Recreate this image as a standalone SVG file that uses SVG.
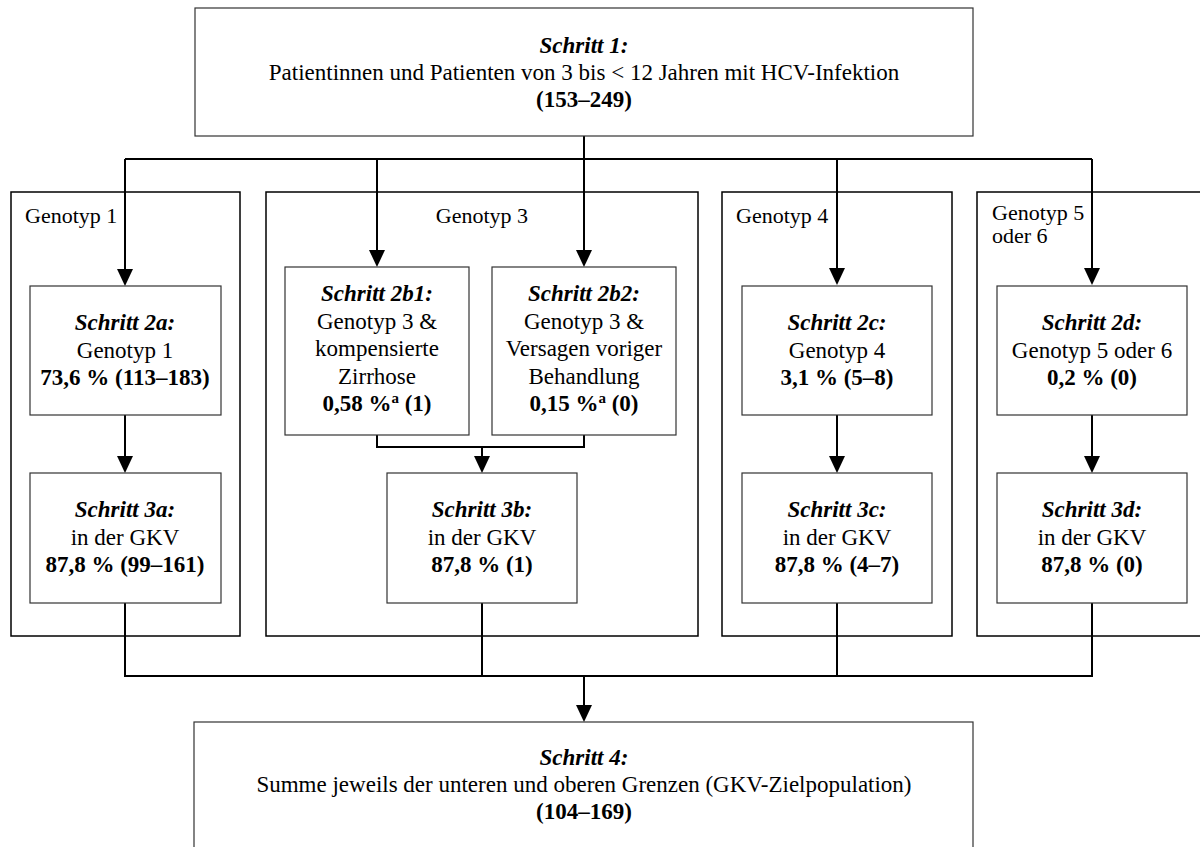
<svg xmlns="http://www.w3.org/2000/svg" width="1200" height="847" viewBox="0 0 1200 847" font-family="Liberation Serif, DejaVu Serif, serif">
<defs>
<style>
.box{fill:#fff;stroke:#333;stroke-width:1.2}
.grp{fill:none;stroke:#000;stroke-width:1.5}
.con{fill:none;stroke:#000;stroke-width:2}
text{font-family:'Liberation Serif','DejaVu Serif',serif;font-size:23px;fill:#000}
.c{text-anchor:middle}
.bi{font-weight:bold;font-style:italic}
.b{font-weight:bold}
.lbl{font-size:22px}
</style>
<marker id="ah" markerUnits="userSpaceOnUse" markerWidth="17" markerHeight="16" viewBox="0 0 17 16" refX="14" refY="8" orient="auto">
<path d="M0,0 L17,8 L0,16 z" fill="#000"/>
</marker>
</defs>
<rect width="1200" height="847" fill="#fff"/>

<g id="groups">
<g id="grp-g1"><rect class="grp" x="11" y="192" width="229" height="444"/><text class="lbl" x="25" y="223">Genotyp 1</text></g>
<g id="grp-g3"><rect class="grp" x="266" y="192" width="432" height="444"/><text class="lbl c" x="482" y="223">Genotyp 3</text></g>
<g id="grp-g4"><rect class="grp" x="722" y="192" width="230" height="444"/><text class="lbl" x="736" y="223">Genotyp 4</text></g>
<g id="grp-g56"><rect class="grp" x="977" y="192" width="240" height="444"/><text class="lbl" x="992" y="220">Genotyp 5</text><text class="lbl" x="992" y="243">oder 6</text></g>
</g>

<g id="connectors">
<path class="con" d="M584,136 V159 M125,159 H1092"/>
<path class="con" d="M125,159 V283" marker-end="url(#ah)"/>
<path class="con" d="M377,159 V264" marker-end="url(#ah)"/>
<path class="con" d="M584,159 V264" marker-end="url(#ah)"/>
<path class="con" d="M837,159 V282" marker-end="url(#ah)"/>
<path class="con" d="M1092,159 V282" marker-end="url(#ah)"/>
<path class="con" d="M125,415 V470" marker-end="url(#ah)"/>
<path class="con" d="M837,415 V470" marker-end="url(#ah)"/>
<path class="con" d="M1092,415 V470" marker-end="url(#ah)"/>
<path class="con" d="M377,435 V447 H584 V435"/>
<path class="con" d="M482,447 V470" marker-end="url(#ah)"/>
<path class="con" d="M125,603 V676 H1092 V603 M482,603 V676 M837,603 V676"/>
<path class="con" d="M584,676 V719" marker-end="url(#ah)"/>
</g>

<g id="step1">
<rect class="box" x="195" y="8" width="778" height="128"/>
<text class="c bi" x="584" y="53">Schritt 1:</text>
<text class="c" x="584" y="80">Patientinnen und Patienten von 3 bis &lt; 12 Jahren mit HCV-Infektion</text>
<text class="c b" x="584" y="107">(153–249)</text>
</g>

<g id="step2a">
<rect class="box" x="30" y="286" width="191" height="129"/>
<text class="c bi" x="125" y="330">Schritt 2a:</text>
<text class="c" x="125" y="357.5">Genotyp 1</text>
<text class="c b" x="125" y="385">73,6 % (113–183)</text>
</g>
<g id="step3a">
<rect class="box" x="30" y="473" width="191" height="130"/>
<text class="c bi" x="125" y="517">Schritt 3a:</text>
<text class="c" x="125" y="544.5">in der GKV</text>
<text class="c b" x="125" y="572">87,8 % (99–161)</text>
</g>

<g id="step2b1">
<rect class="box" x="285" y="267" width="184" height="168"/>
<text class="c bi" x="377" y="301">Schritt 2b1:</text>
<text class="c" x="377" y="328.5">Genotyp 3 &amp;</text>
<text class="c" x="377" y="356">kompensierte</text>
<text class="c" x="377" y="383.5">Zirrhose</text>
<text class="c b" x="377" y="411">0,58 %<tspan font-size="15" dy="-8">a</tspan><tspan dy="8"> (1)</tspan></text>
</g>
<g id="step2b2">
<rect class="box" x="492" y="267" width="184" height="168"/>
<text class="c bi" x="584" y="301">Schritt 2b2:</text>
<text class="c" x="584" y="328.5">Genotyp 3 &amp;</text>
<text class="c" x="584" y="356">Versagen voriger</text>
<text class="c" x="584" y="383.5">Behandlung</text>
<text class="c b" x="584" y="411">0,15 %<tspan font-size="15" dy="-8">a</tspan><tspan dy="8"> (0)</tspan></text>
</g>
<g id="step3b">
<rect class="box" x="387" y="473" width="190" height="130"/>
<text class="c bi" x="482" y="517">Schritt 3b:</text>
<text class="c" x="482" y="544.5">in der GKV</text>
<text class="c b" x="482" y="572">87,8 % (1)</text>
</g>

<g id="step2c">
<rect class="box" x="742" y="286" width="190" height="129"/>
<text class="c bi" x="837" y="330">Schritt 2c:</text>
<text class="c" x="837" y="357.5">Genotyp 4</text>
<text class="c b" x="837" y="385">3,1 % (5–8)</text>
</g>
<g id="step3c">
<rect class="box" x="742" y="473" width="190" height="130"/>
<text class="c bi" x="837" y="517">Schritt 3c:</text>
<text class="c" x="837" y="544.5">in der GKV</text>
<text class="c b" x="837" y="572">87,8 % (4–7)</text>
</g>

<g id="step2d">
<rect class="box" x="997" y="286" width="190" height="129"/>
<text class="c bi" x="1092" y="330">Schritt 2d:</text>
<text class="c" x="1092" y="357.5">Genotyp 5 oder 6</text>
<text class="c b" x="1092" y="385">0,2 % (0)</text>
</g>
<g id="step3d">
<rect class="box" x="997" y="473" width="190" height="130"/>
<text class="c bi" x="1092" y="517">Schritt 3d:</text>
<text class="c" x="1092" y="544.5">in der GKV</text>
<text class="c b" x="1092" y="572">87,8 % (0)</text>
</g>

<g id="step4">
<rect class="box" x="194" y="722" width="779" height="140"/>
<text class="c bi" x="584" y="765">Schritt 4:</text>
<text class="c" x="584" y="792">Summe jeweils der unteren und oberen Grenzen (GKV-Zielpopulation)</text>
<text class="c b" x="584" y="819">(104–169)</text>
</g>
</svg>
